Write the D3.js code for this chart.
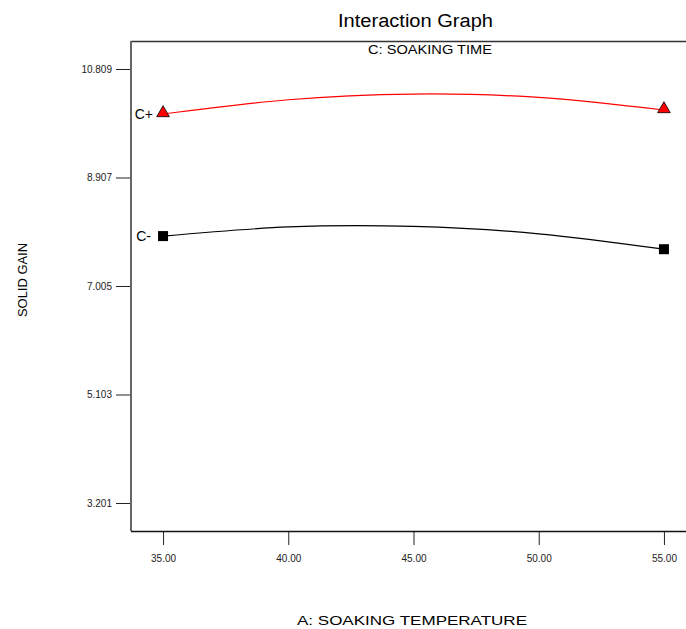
<!DOCTYPE html>
<html>
<head>
<meta charset="utf-8">
<script src="https://cdn.jsdelivr.net/npm/d3@7"></script>
<style>
  body { margin: 0; background: #fff; }
  svg { display: block; font-family: "Liberation Sans", Arial, sans-serif; }
</style>
</head>
<body>
<div id="chart"></div>
<script>
// Data
const temps = [35, 40, 45, 50, 55];
const cPlus = [10.02, 10.27, 10.37, 10.31, 10.09];
const cMinus = [7.88, 8.04, 8.05, 7.92, 7.65];
const yTicks = [3.201, 5.103, 7.005, 8.907, 10.809];
const xTicks = [35, 40, 45, 50, 55];

const W = 686, H = 629;
const svg = d3.select('#chart').append('svg')
  .attr('width', W)
  .attr('height', H);

const plotLeft = 131, plotTop = 41, plotBottom = 531, plotRight = 696;

const x = d3.scaleLinear().domain([33.72, 56.28]).range([plotLeft, plotRight]);
const y = d3.scaleLinear().domain([2.71, 11.30]).range([plotBottom, plotTop]);

// Titles (stretched a little, like the original export)
svg.append('text')
  .attr('x', 338).attr('y', 27)
  .attr('textLength', 155).attr('lengthAdjust', 'spacingAndGlyphs')
  .style('font-size', '18px')
  .text('Interaction Graph');

svg.append('text')
  .attr('x', 368).attr('y', 54)
  .attr('textLength', 124).attr('lengthAdjust', 'spacingAndGlyphs')
  .style('font-size', '13px')
  .text('C: SOAKING TIME');

// Frame top line
svg.append('line')
  .attr('x1', plotLeft).attr('x2', W)
  .attr('y1', plotTop + 0.5).attr('y2', plotTop + 0.5)
  .attr('stroke', '#333').attr('stroke-width', 1.5);

// Y axis
const yAxis = svg.append('g')
  .attr('transform', `translate(${plotLeft},0)`)
  .call(d3.axisLeft(y).tickValues(yTicks).tickSize(15).tickPadding(4)
    .tickFormat(d3.format('.3f')));
yAxis.select('.domain').remove();
yAxis.selectAll('.tick line').attr('stroke', '#222');
yAxis.selectAll('.tick text')
  .style('font-size', '10px')
  .attr('fill', '#222')
  .attr('font-family', '"Liberation Sans", Arial, sans-serif');

svg.append('line')
  .attr('x1', plotLeft).attr('x2', plotLeft)
  .attr('y1', plotTop).attr('y2', plotBottom)
  .attr('stroke', '#666').attr('stroke-width', 2);

// X axis
const xAxis = svg.append('g')
  .attr('transform', `translate(0,${plotBottom})`)
  .call(d3.axisBottom(x).tickValues(xTicks).tickSize(14).tickPadding(10)
    .tickFormat(d3.format('.2f')));
xAxis.select('.domain').remove();
xAxis.selectAll('.tick line').attr('stroke', '#222');
xAxis.selectAll('.tick text')
  .style('font-size', '10px')
  .attr('fill', '#222')
  .attr('font-family', '"Liberation Sans", Arial, sans-serif');

svg.append('line')
  .attr('x1', plotLeft).attr('x2', W)
  .attr('y1', plotBottom + 0.5).attr('y2', plotBottom + 0.5)
  .attr('stroke', '#111').attr('stroke-width', 1.5);

// Axis labels
svg.append('text')
  .attr('x', 297).attr('y', 625)
  .attr('textLength', 230).attr('lengthAdjust', 'spacingAndGlyphs')
  .style('font-size', '13px')
  .text('A: SOAKING TEMPERATURE');

svg.append('text')
  .attr('transform', `translate(27,317) rotate(-90)`)
  .attr('textLength', 74).attr('lengthAdjust', 'spacingAndGlyphs')
  .style('font-size', '13px')
  .text('SOLID GAIN');

// Lines
const line = d3.line()
  .x((d, i) => x(temps[i]))
  .y(d => y(d))
  .curve(d3.curveNatural);

svg.append('path')
  .datum(cPlus)
  .attr('fill', 'none')
  .attr('stroke', '#ff0000')
  .attr('stroke-width', 1.2)
  .attr('d', line);

svg.append('path')
  .datum(cMinus)
  .attr('fill', 'none')
  .attr('stroke', '#000')
  .attr('stroke-width', 1.2)
  .attr('d', line);

// Markers
const ends = [0, temps.length - 1];
svg.selectAll('.tri')
  .data(ends)
  .enter().append('path')
    .attr('class', 'tri')
    .attr('transform', i => `translate(${x(temps[i])},${y(cPlus[i]) - 1})`)
    .attr('d', d3.symbol().type(d3.symbolTriangle).size(70))
    .attr('fill', '#ff0000')
    .attr('stroke', '#000')
    .attr('stroke-width', 0.8);

svg.selectAll('.sq')
  .data(ends)
  .enter().append('rect')
    .attr('class', 'sq')
    .attr('x', i => x(temps[i]) - 5)
    .attr('y', i => y(cMinus[i]) - 5)
    .attr('width', 10).attr('height', 10)
    .attr('fill', '#000');

// Series labels
svg.append('text')
  .attr('x', 153).attr('y', y(cPlus[0]) + 5)
  .attr('text-anchor', 'end')
  .style('font-size', '14px')
  .text('C+');

svg.append('text')
  .attr('x', 151).attr('y', y(cMinus[0]) + 5)
  .attr('text-anchor', 'end')
  .style('font-size', '14px')
  .text('C-');
</script>
</body>
</html>
